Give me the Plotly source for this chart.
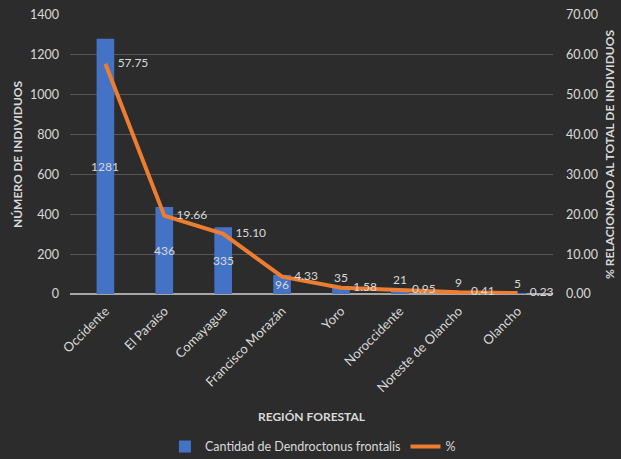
import plotly.graph_objects as go

# Individuals of Dendroctonus frontalis per forest region
regiones = ["Occidente", "El Paraíso", "Comayagua", "Francisco Morazán",
            "Yoro", "Noroccidente", "Noreste de Olancho", "Olancho"]
cantidad = [1281, 436, 335, 96, 35, 21, 9, 5]
porcentaje = [57.75, 19.66, 15.10, 4.33, 1.58, 0.95, 0.41, 0.23]

left_ticks = [0, 200, 400, 600, 800, 1000, 1200, 1400]
right_ticks = [0, 10, 20, 30, 40, 50, 60, 70]

FONT = "Lato"
TXT = "#d9d9d9"
BAR = "#4472c4"
LINE = "#ed7d31"

fig = go.Figure()

fig.add_trace(go.Bar(
    x=regiones, y=cantidad, name="Cantidad de Dendroctonus frontalis",
    marker=dict(color=BAR, line=dict(width=0)), width=0.3,
    yaxis="y", cliponaxis=False,
))

# Count labels: centred in tall bars, just above the short ones
for reg, val in zip(regiones, cantidad):
    inside = val > 60
    fig.add_annotation(
        x=reg, y=val / 2 if inside else val, yref="y",
        yshift=0 if inside else 10,
        text=str(val), showarrow=False,
        font=dict(family=FONT, size=12, color=TXT),
    )

fig.add_trace(go.Scatter(
    x=regiones, y=porcentaje, name="%", yaxis="y2",
    mode="lines+text+markers", line=dict(color=LINE, width=4),
    marker=dict(size=18, color="rgba(0,0,0,0)", line=dict(width=0)),
    text=[f"{v:.2f}" for v in porcentaje], textposition="middle right",
    textfont=dict(family=FONT, size=12, color=TXT), cliponaxis=False,
))

# Soft radial shading of the dark background
shapes = []
n = 36
for i in range(n):
    f = 1 - i / n
    cx, cy = 0.64, 0.66
    rx, ry = 1.0 * f, 1.15 * f
    shapes.append(dict(
        type="circle", xref="paper", yref="paper", layer="below",
        x0=cx - rx, x1=cx + rx, y0=cy - ry, y1=cy + ry,
        fillcolor="rgba(255,255,255,0.0055)", line=dict(width=0),
    ))

fig.update_layout(
    width=621, height=459,
    margin=dict(l=70, r=68, t=15, b=165, autoexpand=False),
    paper_bgcolor="#2c2c2c", plot_bgcolor="rgba(0,0,0,0)",
    font=dict(family=FONT, size=12, color=TXT),
    shapes=shapes,
    showlegend=True,
    legend=dict(orientation="h", x=0.503, xanchor="center", y=-0.548, yanchor="middle",
                font=dict(family=FONT, size=12.5, color=TXT), bgcolor="rgba(0,0,0,0)"),
    xaxis=dict(
        tickangle=-45, tickfont=dict(family=FONT, size=13, color=TXT),
        showgrid=False, showline=False, ticks="", automargin=False,
        ticklabelstandoff=6,
        title=dict(text="<b>REGIÓN FORESTAL</b>", standoff=18,
                   font=dict(family=FONT, size=12, color=TXT)),
    ),
    yaxis=dict(
        range=[0, 1400], tickvals=left_ticks, showgrid=True, automargin=False,
        gridcolor="#575757", gridwidth=1, zeroline=True, zerolinecolor="#a6a6a6",
        zerolinewidth=1.5, tickfont=dict(family=FONT, size=12.5, color=TXT), ticks="",
        ticklabelstandoff=10,
        title=dict(text="<b>NÚMERO DE INDIVIDUOS</b>", standoff=4,
                   font=dict(family=FONT, size=12, color=TXT)),
    ),
    yaxis2=dict(
        range=[0, 70], tickvals=right_ticks, tickformat=".2f", overlaying="y",
        side="right", showgrid=False, zeroline=False, ticks="", automargin=False,
        ticklabelstandoff=12,
        tickfont=dict(family=FONT, size=12.5, color=TXT),
        title=dict(text="<b>% RELACIONADO AL TOTAL DE INDIVIDUOS</b>", standoff=8,
                   font=dict(family=FONT, size=12, color=TXT)),
    ),
)

fig.write_html("out.html")
